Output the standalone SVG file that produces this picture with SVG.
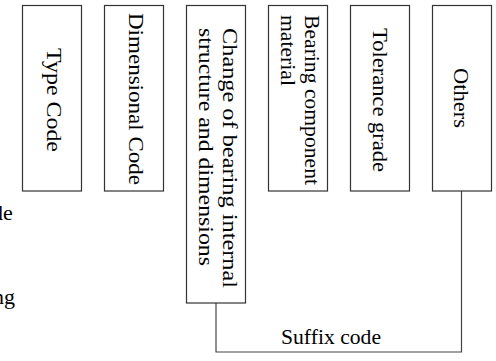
<svg xmlns="http://www.w3.org/2000/svg" width="496" height="361" viewBox="0 0 496 361">
<style>
.box{fill:#fff;stroke:#333;stroke-width:1.2}
.t{font-family:"Liberation Serif","Times New Roman",serif;font-size:22px;fill:#000}
.c{fill:none;stroke:#444;stroke-width:1.2}
</style>
<rect width="496" height="361" fill="#fff"/>
<g id="cut-labels">
<text class="t" x="-8" y="220">de</text>
<text class="t" x="-7" y="304">ng</text>
</g>
<g id="connectors">
<polyline class="c" points="216,303 216,352 461.5,352 461.5,191"/>
</g>
<g id="type-code">
<rect class="box" x="22.5" y="5.5" width="59" height="185.5"/>
<text class="t" transform="translate(47,100) rotate(90)" text-anchor="middle" textLength="104" lengthAdjust="spacingAndGlyphs">Type Code</text>
</g>
<g id="dimensional-code">
<rect class="box" x="104.5" y="5.5" width="59" height="185.5"/>
<text class="t" transform="translate(129,99) rotate(90)" text-anchor="middle" textLength="172" lengthAdjust="spacingAndGlyphs">Dimensional Code</text>
</g>
<g id="change">
<rect class="box" x="186.5" y="5.5" width="59" height="297.5"/>
<text class="t" transform="translate(223,28) rotate(90)" textLength="260" lengthAdjust="spacingAndGlyphs">Change of bearing internal</text>
<text class="t" transform="translate(199,28) rotate(90)" textLength="238" lengthAdjust="spacingAndGlyphs">structure and dimensions</text>
</g>
<g id="bearing-material">
<rect class="box" x="268.5" y="5.5" width="59" height="185.5"/>
<text class="t" transform="translate(305,15) rotate(90)" textLength="170" lengthAdjust="spacingAndGlyphs">Bearing component</text>
<text class="t" transform="translate(281,15) rotate(90)" textLength="71" lengthAdjust="spacingAndGlyphs">material</text>
</g>
<g id="tolerance-grade">
<rect class="box" x="350.5" y="5.5" width="59" height="185.5"/>
<text class="t" transform="translate(373,100) rotate(90)" text-anchor="middle" textLength="144" lengthAdjust="spacingAndGlyphs">Tolerance grade</text>
</g>
<g id="others">
<rect class="box" x="432.5" y="5.5" width="59" height="185.5"/>
<text class="t" transform="translate(454,98) rotate(90)" text-anchor="middle" textLength="60" lengthAdjust="spacingAndGlyphs">Others</text>
</g>
<g id="suffix">
<text class="t" x="331" y="344" text-anchor="middle" textLength="100" lengthAdjust="spacingAndGlyphs">Suffix code</text>
</g>
</svg>
